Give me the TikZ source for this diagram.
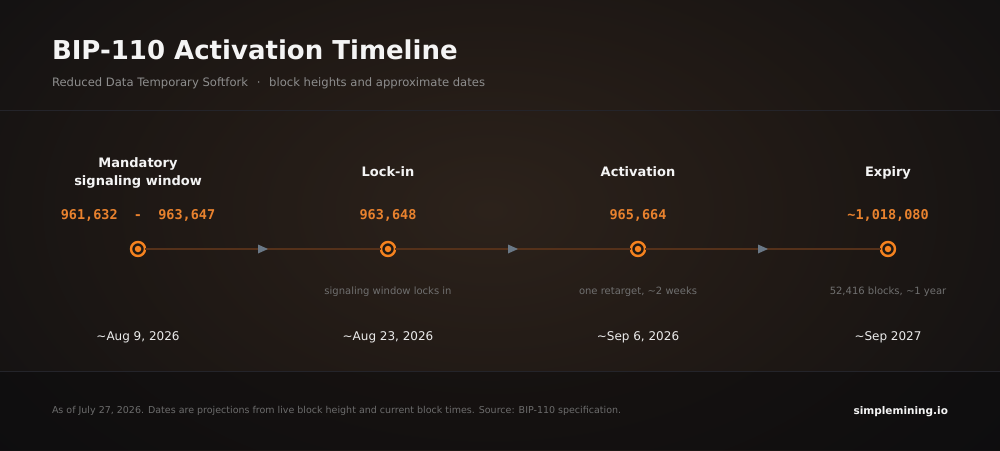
\documentclass[tikz,border=0pt]{standalone}
\usepackage{fontspec}
\setmainfont{DejaVu Sans}
\setmonofont{DejaVu Sans Mono}
\usetikzlibrary{decorations.markings}
\definecolor{bg}{HTML}{0D0D0F}
\definecolor{glow}{HTML}{2C221B}
\definecolor{glowmid}{HTML}{201915}
\definecolor{glowlow}{HTML}{141212}
\definecolor{footbg}{HTML}{0B0B0D}
\definecolor{sepc}{HTML}{24242A}
\definecolor{orng}{HTML}{F5821F}
\definecolor{numc}{HTML}{E9822E}
\definecolor{linec}{HTML}{55311A}
\definecolor{arrowc}{HTML}{6A7886}
\definecolor{titlec}{HTML}{F4F4F4}
\definecolor{subc}{HTML}{8E8E8E}
\definecolor{capc}{HTML}{707070}
\definecolor{datec}{HTML}{ECECEC}
\definecolor{footc}{HTML}{6C6C6C}
\definecolor{markfill}{HTML}{1E1814}
\pgfdeclareradialshading{glowshade}{\pgfpoint{0bp}{0bp}}{color(0bp)=(glow); color(9bp)=(glowmid); color(17bp)=(glowlow); color(25bp)=(bg); color(50bp)=(bg)}
\begin{document}
\begin{tikzpicture}[x=1pt,y=-1pt,
  every node/.style={inner sep=0pt, outer sep=0pt},
  heading/.style={anchor=base, align=center, text=titlec, font=\fontsize{13}{17.5}\selectfont\bfseries},
  number/.style={anchor=base, text=numc, font=\fontsize{13.5}{16}\selectfont\ttfamily\bfseries},
  caption/.style={anchor=base, text=capc, font=\fontsize{10}{12}\selectfont},
  datelabel/.style={anchor=base, text=datec, font=\fontsize{12}{14}\selectfont},
  marker/.style={circle, draw=orng, line width=2.4pt, fill=markfill, minimum size=14pt},
  centerdot/.style={circle, fill=orng, minimum size=6.5pt},
  tline/.style={draw=linec, line width=2pt, postaction={decorate},
    decoration={markings, mark=at position 0.5 with {\fill[arrowc] (-5,-4.5) -- (5,0) -- (-5,4.5) -- cycle;}}}
]
\useasboundingbox (0,0) rectangle (1000,450);
% background
\fill[bg] (0,0) rectangle (1000,450);
\begin{scope}
  \clip (0,0) rectangle (1000,450);
  \shade[shading=glowshade] (490,210) ellipse (860 and 540);
\end{scope}
\fill[footbg, opacity=0.5] (0,371) rectangle (1000,450);
\draw[sepc, line width=1pt] (0,110.5) -- (1000,110.5);
\draw[sepc, line width=1pt] (0,371.5) -- (1000,371.5);

% header
\node[anchor=base west, text=titlec, font=\fontsize{26}{31}\selectfont\bfseries] (title) at (52,59) {BIP-110 Activation Timeline};
\node[anchor=base west, text=subc, font=\fontsize{11.6}{14}\selectfont] (subtitle) at (52,86) {Reduced Data Temporary Softfork\hspace{0.75em}·\hspace{0.75em}block heights and approximate dates};

% markers
\node[marker] (m1) at (138,249) {};
\node[marker] (m2) at (388,249) {};
\node[marker] (m3) at (638,249) {};
\node[marker] (m4) at (888,249) {};
\node[centerdot] (d1) at (m1) {};
\node[centerdot] (d2) at (m2) {};
\node[centerdot] (d3) at (m3) {};
\node[centerdot] (d4) at (m4) {};
\draw[tline] (m1) -- (m2);
\draw[tline] (m2) -- (m3);
\draw[tline] (m3) -- (m4);

% headings
\node[heading] (h1) at (138,185) {Mandatory\\signaling window};
\node[heading] (h2) at (388,176) {Lock-in};
\node[heading] (h3) at (638,176) {Activation};
\node[heading] (h4) at (888,176) {Expiry};

% numbers
\node[number] (n1) at (138,219) {961,632\ \ -\ \ 963,647};
\node[number] (n2) at (388,219) {963,648};
\node[number] (n3) at (638,219) {965,664};
\node[number] (n4) at (888,219) {\char`\~1,018,080};

% captions
\node[caption] (c2) at (388,294) {signaling window locks in};
\node[caption] (c3) at (638,294) {one retarget, \char`\~2 weeks};
\node[caption] (c4) at (888,294) {52,416 blocks, \char`\~1 year};

% dates
\node[datelabel] (t1) at (138,340) {\char`\~Aug 9, 2026};
\node[datelabel] (t2) at (388,340) {\char`\~Aug 23, 2026};
\node[datelabel] (t3) at (638,340) {\char`\~Sep 6, 2026};
\node[datelabel] (t4) at (888,340) {\char`\~Sep 2027};

% footer
\node[anchor=base west, text=footc, font=\fontsize{9.5}{11}\selectfont] (foot) at (52,413) {As of July 27, 2026. Dates are projections from live block height and current block times. Source: BIP-110 specification.};
\node[anchor=base east, text=titlec, font=\fontsize{10.5}{12}\selectfont\bfseries] (brand) at (948,414) {simplemining.io};
\end{tikzpicture}
\end{document}
